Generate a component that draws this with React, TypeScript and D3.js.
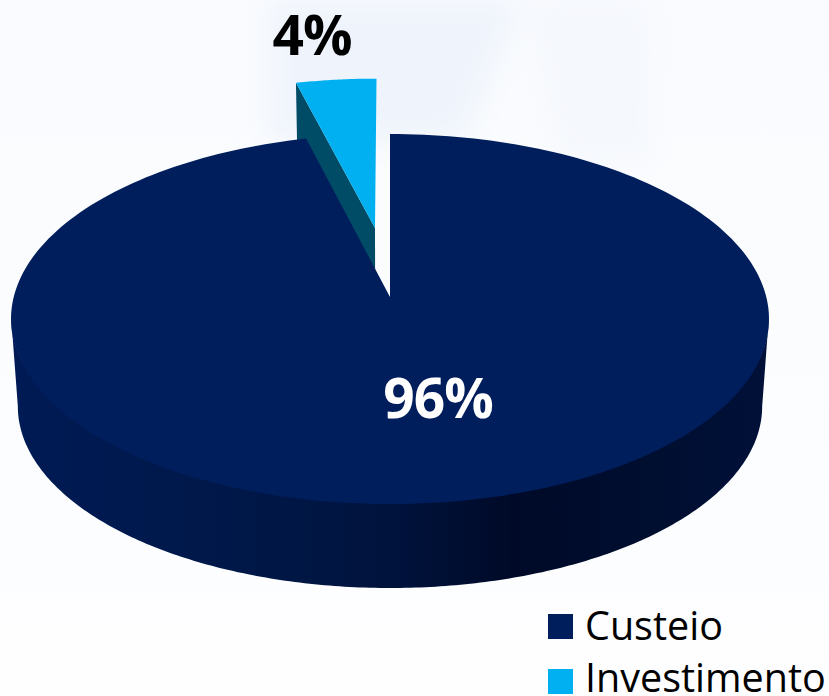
import React from "react";
import * as d3 from "d3";

const categories = ["Custeio", "Investimento"];
const shares = [96, 4];
const percentLabels = ["96%", "4%"];
const topColors = ["#001e5c", "#00b0f0"];

const width = 829;
const height = 696;

// Perspective disc: unit-circle coordinates to screen coordinates.
const disc = { cx: 390, apexY: 297, a: 376.3, b: 182.4, k: 0.119 };
const base = { scale: 0.982, apexY: 384.7 };
// Offset of the pulled-out slice, in unit-circle coordinates.
const explode = { u: -0.0418, v: 0.396 };
const tiltAngle = Math.acos(-disc.k); // rim angle of the silhouette

type Pt = [number, number];

const projectTop = (u: number, v: number): Pt => {
  const w = 1 + disc.k * v;
  return [disc.cx + (disc.a * u) / w, disc.apexY - (disc.b * v) / w];
};
const projectBase = (u: number, v: number): Pt => {
  const w = 1 + disc.k * v;
  return [
    disc.cx + (base.scale * disc.a * u) / w,
    base.apexY - (base.scale * disc.b * v) / w,
  ];
};
const onCircle = (angle: number): Pt => [Math.sin(angle), Math.cos(angle)];

const line = d3.line<Pt>();
const rim = (start: number, end: number, steps = 240) =>
  d3.range(steps + 1).map((i) => start + ((end - start) * i) / steps);

const pie = d3.pie<number>().sort(null).startAngle(0).endAngle(2 * Math.PI);
const [mainArc, sideArc] = pie(shares);

// Main slice surfaces
const mainTop =
  line([
    projectTop(0, 0),
    ...rim(mainArc.startAngle, mainArc.endAngle).map((t) => {
      const [u, v] = onCircle(t);
      return projectTop(u, v);
    }),
  ]) + "Z";

// The wall's upper edge sits slightly inside the top face so no seam shows.
const wallAngles = rim(tiltAngle, 2 * Math.PI - tiltAngle);
const mainWall =
  line([
    ...wallAngles.map((t) => {
      const [u, v] = onCircle(t);
      return projectTop(u * 0.9995, v * 0.99);
    }),
    ...[...wallAngles].reverse().map((t) => {
      const [u, v] = onCircle(t);
      return projectBase(u, v);
    }),
  ]) + "Z";

// Pulled-out slice surfaces
const shifted = (t: number): Pt => {
  const [u, v] = onCircle(t);
  return [u + explode.u, v + explode.v];
};
const sideTop =
  line([
    projectTop(explode.u, explode.v),
    ...rim(sideArc.startAngle, sideArc.endAngle, 30).map((t) => {
      const [u, v] = shifted(t);
      return projectTop(u, v);
    }),
  ]) + "Z";

const [eu, ev] = shifted(sideArc.startAngle);
const sideFace =
  line([
    projectTop(eu, ev),
    projectTop(explode.u, explode.v),
    projectBase(explode.u, explode.v),
    projectBase(eu, ev),
  ]) + "Z";

const wallStops: [number, string][] = [
  [0, "#001a55"],
  [0.3, "#001848"],
  [0.5, "#00133d"],
  [0.66, "#000a28"],
  [0.85, "#000e30"],
  [1, "#001038"],
];

export default function App() {
  return (
    <svg
      width={width}
      height={height}
      viewBox={`0 0 ${width} ${height}`}
      style={{ position: "absolute", left: 0, top: 0, display: "block" }}
    >
      <defs>
        <linearGradient id="page" x1="0" y1="0" x2="0" y2="1">
          <stop offset="0" stopColor="#f9fbfe" />
          <stop offset="0.4" stopColor="#fafcfe" />
          <stop offset="1" stopColor="#fefeff" />
        </linearGradient>
        <linearGradient id="wall" x1="0" y1="0" x2="1" y2="0">
          {wallStops.map(([o, c]) => (
            <stop key={o} offset={o} stopColor={c} />
          ))}
        </linearGradient>
        <filter id="soft" x="-30%" y="-30%" width="160%" height="160%">
          <feGaussianBlur stdDeviation="14" />
        </filter>
      </defs>
      <rect width={width} height={height} fill="url(#page)" />

      {/* Faint pale-blue backdrop facets behind the pie */}
      <g filter="url(#soft)">
        <polygon points="270,0 520,0 465,140 270,140" fill="#eff4fc" />
        <polygon points="525,0 650,0 650,160 560,160" fill="#f5f8fd" />
      </g>

      <path d={sideFace} fill="#004b66" />
      <path d={sideTop} fill={topColors[1]} />

      <path d={mainWall} fill="url(#wall)" />
      <path d={mainTop} fill={topColors[0]} />

      <g fontFamily="'Open Sans', sans-serif" fontWeight={700} fontSize={55} letterSpacing={-1}>
        <text x={438} y={418} textAnchor="middle" fill="#ffffff">
          {percentLabels[0]}
        </text>
        <text x={312} y={55} textAnchor="middle" fill="#000000">
          {percentLabels[1]}
        </text>
      </g>

      <g fontFamily="'Open Sans', sans-serif" fontSize={39.5} fill="#000000">
        {categories.map((name, i) => (
          <g key={name}>
            <rect x={548} y={614 + i * 55} width={25} height={25} fill={topColors[i]} />
            <text x={585} y={640 + i * 52}>
              {name}
            </text>
          </g>
        ))}
      </g>
    </svg>
  );
}
